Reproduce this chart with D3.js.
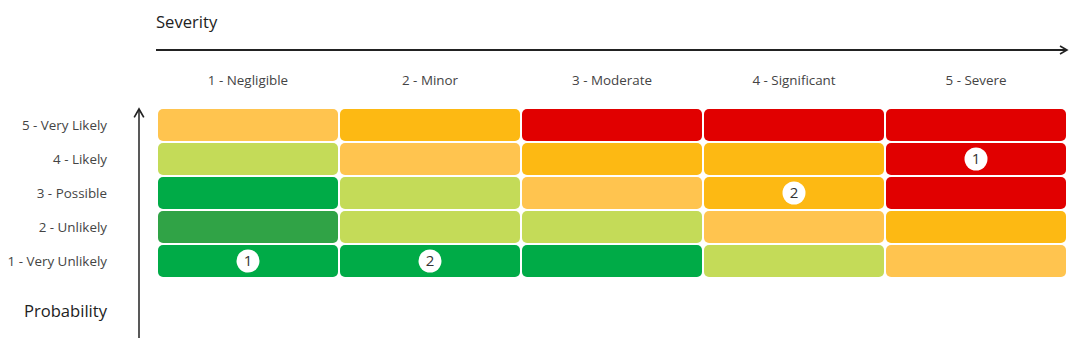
<!DOCTYPE html>
<html><head><meta charset="utf-8">
<script src="https://cdn.jsdelivr.net/npm/d3@7/dist/d3.min.js"></script>
<style>body{margin:0;background:#fff;}svg{display:block;font-family:"Open Sans",sans-serif;}</style>
</head><body><svg id="c" width="1083" height="349"></svg>
<script>
const severities = ["1 - Negligible","2 - Minor","3 - Moderate","4 - Significant","5 - Severe"];
const probabilities = ["5 - Very Likely","4 - Likely","3 - Possible","2 - Unlikely","1 - Very Unlikely"];
// level per row (top to bottom), per severity column
const levels = [
  ["lo","or","rd","rd","rd"],
  ["lg","lo","or","or","rd"],
  ["gr","lg","lo","or","rd"],
  ["dg","lg","lg","lo","or"],
  ["gr","gr","gr","lg","lo"]
];
const levelColors = {gr:"#00AB47", dg:"#30A346", lg:"#C4DB58", lo:"#FFC44F", or:"#FDB913", rd:"#E10000"};
const counts = [
  {sev:"1 - Negligible", prob:"1 - Very Unlikely", n:1},
  {sev:"2 - Minor", prob:"1 - Very Unlikely", n:2},
  {sev:"4 - Significant", prob:"3 - Possible", n:2},
  {sev:"5 - Severe", prob:"4 - Likely", n:1}
];

const svg = d3.select("#c");
const x = d3.scaleBand().domain(severities).range([158,1066]).paddingInner(2/182).paddingOuter(0);
const y = d3.scaleBand().domain(probabilities).range([109,277]).paddingInner(2/34).paddingOuter(0);

const defs = svg.append("defs");
defs.append("marker").attr("id","ah").attr("viewBox","0 0 10 10").attr("refX",8).attr("refY",5)
  .attr("markerWidth",5).attr("markerHeight",6).attr("orient","auto")
  .append("path").attr("d","M1,1 L8,5 L1,9").attr("fill","none").attr("stroke","#222").attr("stroke-width",1.6);
defs.append("marker").attr("id","ah2").attr("viewBox","0 0 10 10").attr("refX",8).attr("refY",5)
  .attr("markerWidth",8).attr("markerHeight",8).attr("orient","auto")
  .append("path").attr("d","M1,1 L8,5 L1,9").attr("fill","none").attr("stroke","#222").attr("stroke-width",1.4);

// cells
const cells = [];
probabilities.forEach((p,i)=>severities.forEach((s,j)=>cells.push({p,s,l:levels[i][j]})));
svg.append("g").selectAll("rect").data(cells).join("rect")
  .attr("x",d=>x(d.s)).attr("y",d=>y(d.p)).attr("width",x.bandwidth()).attr("height",y.bandwidth())
  .attr("rx",5).attr("fill",d=>levelColors[d.l]);

// count bubbles
const g = svg.append("g").selectAll("g").data(counts).join("g")
  .attr("transform",d=>`translate(${x(d.sev)+x.bandwidth()/2},${y(d.prob)+y.bandwidth()/2})`);
g.append("circle").attr("r",11.5).attr("fill","#fff");
g.append("text").attr("text-anchor","middle").attr("dy","0.36em").attr("font-size",15).attr("fill","#333").text(d=>d.n);

// column labels
svg.append("g").selectAll("text").data(severities).join("text")
  .attr("x",d=>x(d)+x.bandwidth()/2).attr("y",85).attr("text-anchor","middle")
  .attr("font-size",13.4).attr("fill","#444").text(d=>d);
// row labels
svg.append("g").selectAll("text").data(probabilities).join("text")
  .attr("x",107).attr("y",d=>y(d)+y.bandwidth()/2).attr("dy","0.35em").attr("text-anchor","end")
  .attr("font-size",13.4).attr("fill","#444").text(d=>d);

// axes
svg.append("line").attr("x1",156).attr("x2",1067).attr("y1",50).attr("y2",50)
  .attr("stroke","#222").attr("stroke-width",2).attr("marker-end","url(#ah)");
svg.append("line").attr("x1",139).attr("x2",139).attr("y1",338).attr("y2",109)
  .attr("stroke","#222").attr("stroke-width",1.5).attr("marker-end","url(#ah2)");

svg.append("text").attr("x",156).attr("y",28).attr("font-size",16.6).attr("fill","#222").text("Severity");
svg.append("text").attr("x",107).attr("y",317).attr("text-anchor","end").attr("font-size",16.6).attr("fill","#222").text("Probability");
</script></body></html>
